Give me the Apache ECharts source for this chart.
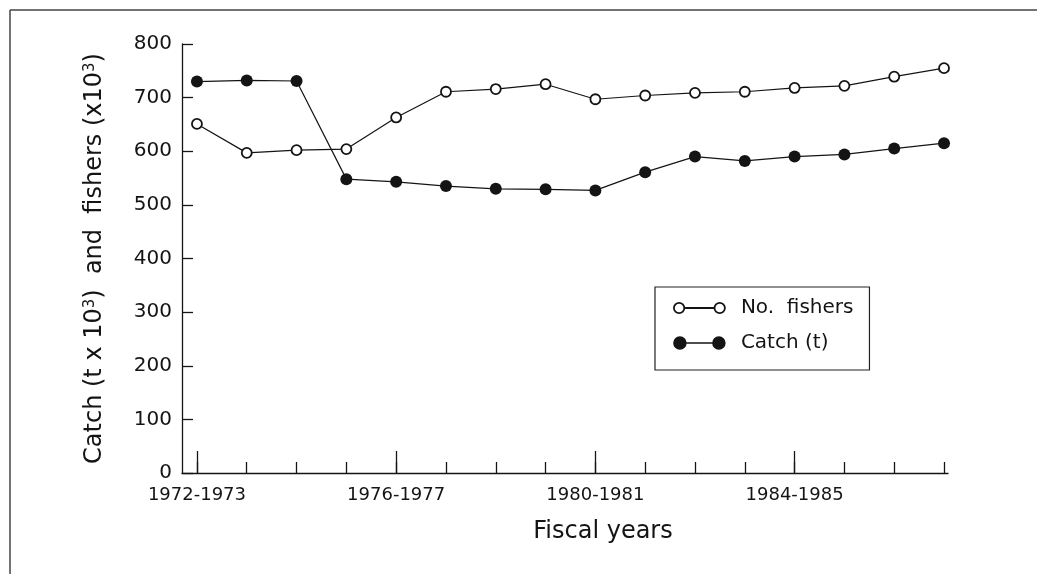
<!DOCTYPE html>
<html>
<head>
<meta charset="utf-8">
<title>Catch and fishers</title>
<script src="https://cdn.jsdelivr.net/npm/echarts@6.0.0/dist/echarts.min.js"></script>
<style>
  html, body { margin: 0; padding: 0; background: #fff; }
  #chart { width: 1037px; height: 574px; }
</style>
</head>
<body>
<div id="chart"></div>
<script>
// fiscal years, one per point
var fiscalYears = ['1972-1973', '1973-1974', '1974-1975', '1975-1976', '1976-1977', '1977-1978',
  '1978-1979', '1979-1980', '1980-1981', '1981-1982', '1982-1983', '1983-1984',
  '1984-1985', '1985-1986', '1986-1987', '1987-1988'];
var labelledYears = [0, 4, 8, 12];

// values in thousands
var fishers = [651, 597, 602, 604, 663, 711, 716, 725, 697, 704, 709, 711, 718, 722, 739, 755];
var catchT = [730, 732, 731, 548, 543, 535, 530, 529, 527, 561, 590, 582, 590, 594, 605, 615];

var ink = '#141414';
var font = 'DejaVu Sans';
var allTicks = fiscalYears.map(function (y, i) { return i; });

var openIcon = 'path://M1,6 A5,5 0 1,0 11,6 A5,5 0 1,0 1,6 Z M11,6 L40,6 M40,6 A5,5 0 1,0 50,6 A5,5 0 1,0 40,6 Z';
var fullIcon = 'path://M1,7 A6,6 0 1,0 13,7 A6,6 0 1,0 1,7 Z M13,7 L40,7 M40,7 A6,6 0 1,0 52,7 A6,6 0 1,0 40,7 Z';

var chart = echarts.init(document.getElementById('chart'));
chart.setOption({
  animation: false,
  backgroundColor: '#fff',
  textStyle: { fontFamily: font, color: ink },
  grid: { left: 182, right: 89, top: 44, bottom: 101 },
  graphic: [
    { type: 'line', shape: { x1: 10, y1: 10, x2: 1037, y2: 10 }, style: { stroke: '#444', lineWidth: 1.5 } },
    { type: 'line', shape: { x1: 10, y1: 10, x2: 10, y2: 574 }, style: { stroke: '#444', lineWidth: 1.5 } }
  ],
  legend: {
    orient: 'vertical',
    left: 655,
    top: 287,
    itemWidth: 51,
    itemHeight: 12,
    itemGap: 15,
    borderColor: '#222',
    borderWidth: 1.2,
    padding: [11, 16, 17, 18],
    textStyle: { fontSize: 20, color: ink, fontFamily: font, padding: [0, 0, 0, 11] },
    data: [
      { name: 'No. fishers', icon: openIcon, itemStyle: { color: '#fff', borderColor: ink, borderWidth: 1.8 } },
      { name: 'Catch (t)', icon: fullIcon, itemStyle: { color: ink, borderColor: ink, borderWidth: 1.5 } }
    ],
    formatter: function (name) { return name.replace('. ', '.  '); }
  },
  xAxis: [
    {
      type: 'value',
      position: 'bottom',
      min: -0.3,
      max: 15.08,
      name: 'Fiscal years',
      nameLocation: 'middle',
      nameGap: 47,
      nameTextStyle: { fontSize: 24, color: ink, fontFamily: font, padding: [0, 0, 0, 76] },
      axisLine: { show: true, onZero: false, lineStyle: { color: ink, width: 1.3 } },
      axisTick: { show: true, inside: true, length: 11, customValues: allTicks, lineStyle: { color: ink, width: 1.3 } },
      axisLabel: {
        customValues: labelledYears,
        margin: 13,
        fontSize: 18,
        color: ink,
        formatter: function (v) { return fiscalYears[v]; }
      },
      splitLine: { show: false }
    },
    {
      type: 'value',
      position: 'bottom',
      min: -0.3,
      max: 15.08,
      axisLine: { show: false, onZero: false },
      axisTick: { show: true, inside: true, length: 22, customValues: labelledYears, lineStyle: { color: ink, width: 1.3 } },
      axisLabel: { show: false },
      splitLine: { show: false }
    }
  ],
  yAxis: {
    type: 'value',
    min: 0,
    max: 800,
    interval: 100,
    name: '{a|Catch (t x 10}{s|3}{a|)  and  fishers (x10}{s|3}{a|)}',
    nameLocation: 'middle',
    nameGap: 75,
    nameTextStyle: {
      color: ink,
      rich: {
        a: { fontSize: 24, fontFamily: font, color: ink },
        s: { fontSize: 15, fontFamily: font, color: ink, verticalAlign: 'top' }
      }
    },
    axisLine: { show: true, onZero: false, lineStyle: { color: ink, width: 1.3 } },
    axisTick: { show: true, inside: true, length: 11, lineStyle: { color: ink, width: 1.3 } },
    axisLabel: { fontSize: 20, color: ink, margin: 10 },
    splitLine: { show: false }
  },
  series: [
    {
      name: 'No. fishers',
      type: 'line',
      data: fishers.map(function (v, i) { return [i, v]; }),
      symbol: 'circle',
      symbolSize: 10,
      lineStyle: { color: ink, width: 1.2 },
      itemStyle: { color: '#fff', borderColor: ink, borderWidth: 1.8 },
      z: 3
    },
    {
      name: 'Catch (t)',
      type: 'line',
      data: catchT.map(function (v, i) { return [i, v]; }),
      symbol: 'circle',
      symbolSize: 12,
      lineStyle: { color: ink, width: 1.2 },
      itemStyle: { color: ink, borderColor: ink, borderWidth: 0 },
      z: 2
    }
  ]
});
</script>
</body>
</html>
